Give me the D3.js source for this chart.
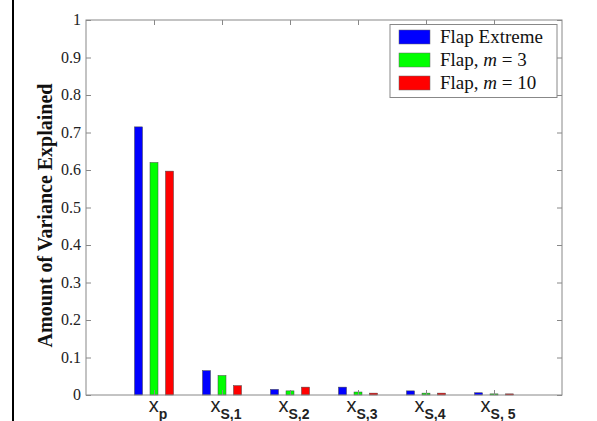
<!DOCTYPE html>
<html><head><meta charset="utf-8">
<script src="https://cdn.jsdelivr.net/npm/d3@7"></script>
<style>body{margin:0;background:#fff}svg{display:block}</style>
</head><body>
<svg id="c" width="597" height="421"></svg>
<script>
const categories = ["p", "S,1", "S,2", "S,3", "S,4", "S, 5"];
const seriesNames = ["Flap Extreme", "Flap, m = 3", "Flap, m = 10"];
const seriesColors = ["#0000ff", "#00ff00", "#ff0000"];
const flapExtreme = [0.715, 0.065, 0.015, 0.021, 0.011, 0.006];
const flapM3 = [0.620, 0.052, 0.011, 0.008, 0.005, 0.003];
const flapM10 = [0.597, 0.025, 0.021, 0.005, 0.005, 0.003];
const yTicks = [0, 0.1, 0.2, 0.3, 0.4, 0.5, 0.6, 0.7, 0.8, 0.9, 1];

const series = [flapExtreme, flapM3, flapM10];
const SERIF = "Liberation Serif";
const SANS = "Liberation Sans";
const svg = d3.select("#c");
const L = 86, R = 562, T = 20, B = 395;
const x = d3.scaleLinear().domain([0, categories.length + 1]).range([L, R]);
const y = d3.scaleLinear().domain([0, 1]).range([B, T]);
const off = d3.scalePoint().domain(d3.range(series.length)).range([-15.5, 15.5]);
const bw = 8;

svg.append("line").attr("x1", 13).attr("x2", 13).attr("y1", 0).attr("y2", 421)
  .attr("stroke", "#000").attr("stroke-width", 2);

series.forEach((vals, s) => {
  svg.append("g").selectAll("rect").data(vals).join("rect")
    .attr("x", (d, i) => x(i + 1) + off(s) - bw / 2)
    .attr("width", bw)
    .attr("y", d => y(d))
    .attr("height", d => B - y(d))
    .attr("fill", seriesColors[s])
    .attr("stroke", "#444").attr("stroke-width", 0.5);
});

const axisColor = "#888";
svg.append("rect").attr("x", L).attr("y", T).attr("width", R - L).attr("height", B - T)
  .attr("fill", "none").attr("stroke", axisColor).attr("stroke-width", 1);

const yl = svg.append("g").attr("transform", `translate(${L},0)`)
  .call(d3.axisLeft(y).tickValues(yTicks).tickSize(-5).tickFormat(""));
yl.select(".domain").remove();
yl.selectAll("line").attr("stroke", axisColor);

const yfmt = d => d === 0 ? "0" : d === 1 ? "1" : d3.format(".1f")(d);
svg.append("g").selectAll("text").data(yTicks).join("text")
  .attr("x", L - 5).attr("y", d => y(d)).attr("dy", "0.33em")
  .attr("text-anchor", "end")
  .attr("font-family", SERIF).attr("font-size", 16).attr("fill", "#222")
  .text(yfmt);

const yr = svg.append("g").attr("transform", `translate(${R},0)`)
  .call(d3.axisRight(y).tickValues(yTicks).tickSize(-5).tickFormat(""));
yr.select(".domain").remove();
yr.selectAll("line").attr("stroke", axisColor);

const cats = d3.range(1, categories.length + 1);
const xb = svg.append("g").attr("transform", `translate(0,${B})`)
  .call(d3.axisBottom(x).tickValues(cats).tickSize(-5).tickFormat(""));
xb.select(".domain").remove();
xb.selectAll("line").attr("stroke", axisColor);
const xt = svg.append("g").attr("transform", `translate(0,${T})`)
  .call(d3.axisTop(x).tickValues(cats).tickSize(-5).tickFormat(""));
xt.select(".domain").remove();
xt.selectAll("line").attr("stroke", axisColor);

categories.forEach((c, i) => {
  const t = svg.append("text").attr("x", x(i + 1) + 4).attr("y", 411.5)
    .attr("text-anchor", "middle")
    .attr("font-family", SANS).attr("fill", "#222");
  t.append("tspan").attr("font-size", 20).text("x");
  t.append("tspan").attr("font-size", 14).attr("font-weight", "bold").attr("dy", 7).text(c);
});

svg.append("text").attr("transform", `translate(52,${(T + B) / 2 + 8}) rotate(-90)`)
  .attr("text-anchor", "middle").attr("font-family", SERIF)
  .attr("font-weight", "bold").attr("font-size", 20).attr("fill", "#111")
  .text("Amount of Variance Explained");

const lg = svg.append("g");
lg.append("rect").attr("x", 390).attr("y", 24.5).attr("width", 167).attr("height", 73)
  .attr("fill", "#fff").attr("stroke", axisColor);
seriesNames.forEach((n, s) => {
  const cy = 37 + s * 23;
  lg.append("rect").attr("x", 399).attr("y", cy - 7).attr("width", 31).attr("height", 14)
    .attr("fill", seriesColors[s]).attr("stroke", "#666").attr("stroke-width", 0.5);
  const t = lg.append("text").attr("x", 440).attr("y", cy + 6)
    .attr("font-family", SERIF).attr("font-size", 19).attr("fill", "#111");
  const m = n.match(/^(.*)(m)( = .*)$/);
  if (m) {
    t.append("tspan").text(m[1]);
    t.append("tspan").attr("font-style", "italic").text(m[2]);
    t.append("tspan").text(m[3]);
  } else t.text(n);
});
</script>
</body></html>
